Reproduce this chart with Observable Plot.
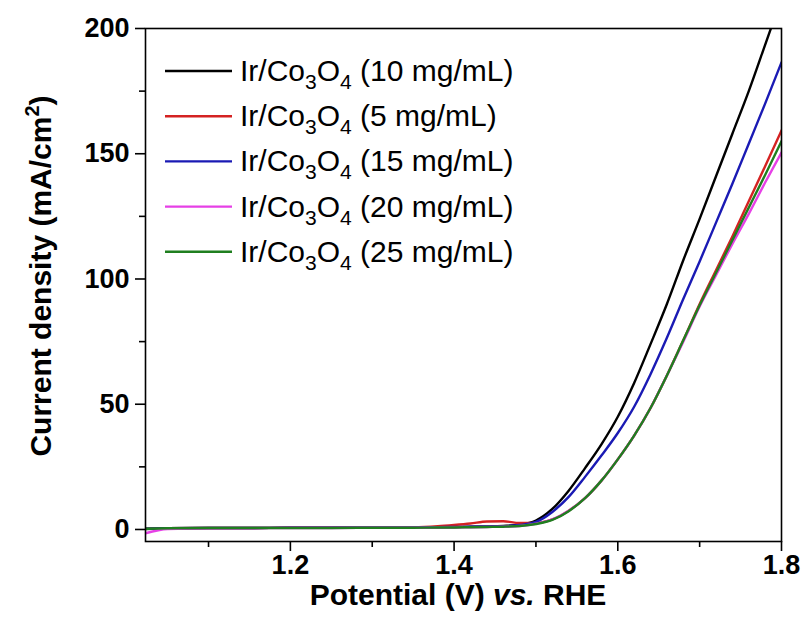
<!DOCTYPE html>
<html>
<head>
<meta charset="utf-8">
<script src="https://cdn.jsdelivr.net/npm/d3@7"></script>
<script src="https://cdn.jsdelivr.net/npm/@observablehq/plot@0.6"></script>
<style>
  html, body { margin: 0; padding: 0; background: #fff; }
  svg { display: block; }
</style>
</head>
<body>
<div id="chart"></div>
<script>
// Potential grid (V vs. RHE)
const potential = [1.023, 1.05, 1.10, 1.15, 1.20, 1.25, 1.30, 1.35, 1.38, 1.40, 1.42, 1.44, 1.46, 1.48, 1.50,
                   1.52, 1.54, 1.56, 1.58, 1.60, 1.62, 1.64, 1.66, 1.68, 1.70, 1.72, 1.74, 1.76, 1.78, 1.80];
// Current density (mA/cm2) for each loading
const j10 = [0.2, 0.5, 0.6, 0.6, 0.7, 0.7, 0.8, 0.8, 0.9, 1.0, 1.1, 1.2, 1.4, 1.9, 3.6,
             8.2, 15.5, 24.5, 34, 45, 58.5, 74, 90, 107.5, 124, 141, 158, 175, 193.5, 212];
const j5  = [0.3, 0.5, 0.6, 0.6, 0.7, 0.7, 0.8, 0.9, 1.3, 1.8, 2.4, 3.2, 3.3, 2.6, 2.6,
             4.0, 7.5, 12.5, 19.5, 28, 37.5, 48.5, 61.5, 75.5, 90, 103.5, 117, 131, 145, 159.3];
const j15 = [0.3, 0.5, 0.6, 0.6, 0.7, 0.7, 0.8, 0.8, 0.9, 1.0, 1.1, 1.2, 1.3, 1.8, 3.0,
             7.0, 13.0, 21, 29.5, 38.5, 49, 62, 76.5, 92, 107, 122.5, 138, 154, 170, 186.5];
const j20 = [-1.5, 0.2, 0.5, 0.5, 0.6, 0.6, 0.7, 0.7, 0.8, 0.8, 0.9, 1.0, 1.1, 1.4, 2.3,
             4.0, 7.5, 12.5, 19.5, 28, 37.5, 48.5, 61.5, 75, 89, 101.5, 114, 126, 138.5, 150.5];
const j25 = [0.3, 0.5, 0.6, 0.6, 0.6, 0.6, 0.7, 0.7, 0.8, 0.8, 0.9, 1.0, 1.1, 1.4, 2.2,
             3.8, 7.3, 12.5, 19.5, 28, 37.5, 48.5, 61.5, 75.5, 89.5, 102.5, 115.5, 128.5, 141.5, 155];

const loadings = ["10 mg/mL", "5 mg/mL", "15 mg/mL", "20 mg/mL", "25 mg/mL"];
const seriesValues = [j10, j5, j15, j20, j25];
const seriesColors = ["#000000", "#d42222", "#1a1ab4", "#e640e6", "#1f7f1f"];

const xMajor = [1.2, 1.4, 1.6, 1.8];
const xMinor = [1.1, 1.3, 1.5, 1.7];
const yMajor = [0, 50, 100, 150, 200];
const yMinor = [25, 75, 125, 175];

const rows = [];
loadings.forEach((s, k) => {
  potential.forEach((v, i) => rows.push({V: v, J: seriesValues[k][i], s}));
});

const boldText = {fontWeight: "bold", fill: "black"};

const svg = Plot.plot({
  width: 803,
  height: 626,
  marginLeft: 145,
  marginRight: 22,
  marginTop: 28,
  marginBottom: 85,
  style: {fontFamily: "'Liberation Sans', Arial, sans-serif", background: "white", color: "black"},
  x: {domain: [1.023, 1.8]},
  y: {domain: [-4.8, 200]},
  color: {domain: loadings, range: seriesColors},
  marks: [
    Plot.line(rows, {x: "V", y: "J", z: "s", stroke: "s", strokeWidth: 2.4, curve: "monotone-x", clip: true}),
    Plot.frame({stroke: "black", strokeWidth: 1.6}),
    Plot.axisX({ticks: xMajor, tickSize: 10, tickPadding: 3, strokeWidth: 1.6, fontSize: 27, ...boldText,
                tickFormat: d => d.toFixed(1), label: null}),
    Plot.axisX({ticks: xMinor, tickSize: 6, strokeWidth: 1.6, tickFormat: () => "", label: null}),
    Plot.axisY({ticks: yMajor, tickSize: 10, tickPadding: 6, strokeWidth: 1.6, fontSize: 27, ...boldText,
                tickFormat: d => String(d), label: null}),
    Plot.axisY({ticks: yMinor, tickSize: 6, strokeWidth: 1.6, tickFormat: () => "", label: null})
  ]
});

document.getElementById("chart").appendChild(svg);

const root = d3.select(svg);
const ff = "'Liberation Sans', Arial, sans-serif";

// X axis title
const xt = root.append("text")
  .attr("x", 458).attr("y", 605)
  .attr("text-anchor", "middle")
  .attr("font-family", ff).attr("font-size", 30).attr("font-weight", "bold").attr("fill", "black");
xt.append("tspan").text("Potential (V)\u00A0");
xt.append("tspan").attr("font-style", "italic").text("vs.");
xt.append("tspan").text("\u00A0RHE");

// Y axis title
const yt = root.append("text")
  .attr("transform", "translate(51,276) rotate(-90)")
  .attr("text-anchor", "middle")
  .attr("font-family", ff).attr("font-size", 30).attr("font-weight", "bold").attr("fill", "black");
yt.append("tspan").text("Current density (mA/cm");
yt.append("tspan").attr("font-size", 20).attr("dy", -12).text("2");
yt.append("tspan").attr("dy", 12).text(")");

// Legend
const lg = root.append("g").attr("font-family", ff).attr("fill", "black").attr("text-anchor", "start");
loadings.forEach((s, k) => {
  const y = 71 + k * 45.2;
  lg.append("line").attr("x1", 165).attr("x2", 232).attr("y1", y).attr("y2", y)
    .attr("stroke", seriesColors[k]).attr("stroke-width", 2.4);
  const t = lg.append("text").attr("x", 240).attr("y", y + 10).attr("font-size", 30)
    .attr("text-anchor", "start");
  t.append("tspan").text("Ir/Co");
  t.append("tspan").attr("font-size", 21).attr("dy", 8).text("3");
  t.append("tspan").attr("dy", -8).text("O");
  t.append("tspan").attr("font-size", 21).attr("dy", 8).text("4");
  t.append("tspan").attr("dy", -8).text("\u00A0(" + s + ")");
});
</script>
</body>
</html>
